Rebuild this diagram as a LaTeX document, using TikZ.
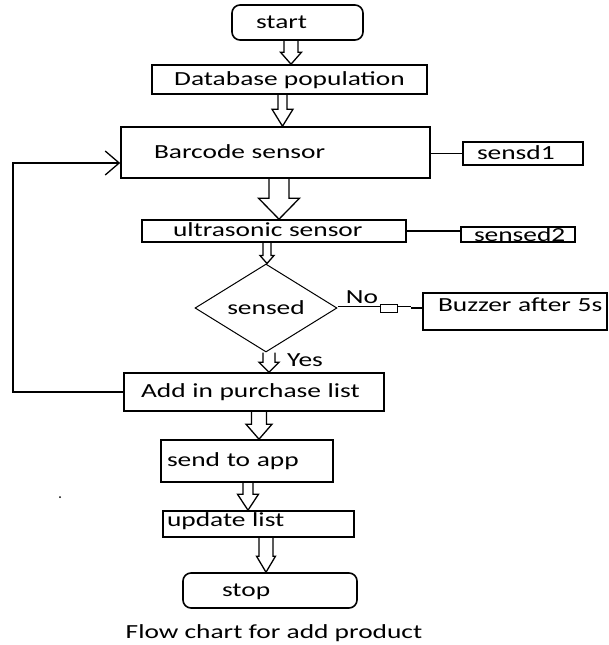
\documentclass[tikz,border=0pt]{standalone}
\usepackage{fontspec}
\setmainfont{Carlito}[FakeStretch=1.37]
\usetikzlibrary{shapes.geometric,calc,arrows.meta}

\newcommand{\fatarrow}[6]{%
  \path (#3,0 |- #1.south) coordinate (fa0) (#3,0 |- #2.north) coordinate (fa1);
  \draw[blockarr] ($(fa0)+(-#4,0)$) -- ($(fa1)+(-#4,-#6)$) -- ($(fa1)+(-#5,-#6)$) -- (fa1)
    -- ($(fa1)+(#5,-#6)$) -- ($(fa1)+(#4,-#6)$) -- ($(fa0)+(#4,0)$);}

\begin{document}
\begin{tikzpicture}[x=1pt,y=-1pt,
    font=\fontsize{20}{24}\selectfont,
    box/.style={draw,line width=1.6pt,inner ysep=0pt,text height=15pt,text depth=4pt},
    lbox/.style n args={3}{box,inner xsep=0pt,text width=#1pt,minimum height=#3pt,align=left,
      execute at begin node={\hspace*{#2pt}}},
    blockarr/.style={line width=1.3pt}]
  \useasboundingbox (0,0) rectangle (608,645);

  \node[lbox={131}{24}{35},rounded corners=8pt] (start) at (297.5,22.5) {start};
  \node[box,minimum width=275pt,minimum height=29pt] (db) at (289.5,79.5) {Database population};
  \node[lbox={309}{33}{51}] (barcode) at (275.5,152.5) {Barcode sensor};
  \node[lbox={120}{14}{23}] (sensd1) at (523,153.5) {sensd1};
  \node[lbox={264}{31}{22}] (ultra) at (274,231) {ultrasonic sensor};
  \node[lbox={114}{13}{15},text height=14pt,text depth=0pt] (sensed2) at (518,234.5) {sensed2};
  \node[draw,diamond,aspect=1.6,line width=1pt,minimum width=142pt,minimum height=88pt,inner sep=0pt] (sense) at (266,308) {sensed};
  \node[lbox={184}{15}{37},text depth=16pt] (buzzer) at (515,311.5) {Buzzer~after~5s};
  \node[lbox={260}{17}{38}] (add) at (254,392) {Add in purchase list};
  \node[lbox={172}{6}{42}] (send) at (247,461) {send to app};
  \node[lbox={191}{4}{26},text depth=10pt] (update) at (258.5,524) {update list};
  \node[lbox={174}{39}{35},rounded corners=8pt] (stop) at (270,590.5) {stop};
  \node (caption) at (274,633) {Flow chart for add product};
  \node (nolbl) at (362,297) {No};
  \node (yeslbl) at (305,360) {Yes};
  \fill (60,497) circle (1pt);

  \fatarrow{start}{db}{291}{7}{10.5}{12}
  \fatarrow{db}{barcode}{282.5}{4.5}{10.5}{17}
  \fatarrow{barcode}{ultra}{279}{10}{20.5}{21}
  \fatarrow{ultra}{sense}{267}{4}{7}{8}
  \fatarrow{sense}{add}{269}{6}{10}{10}
  \fatarrow{add}{send}{259}{7.5}{13}{15}
  \fatarrow{send}{update}{248}{5}{10.5}{16}
  \fatarrow{update}{stop}{266}{7}{9.5}{16}

  \draw[line width=1.3pt] (barcode.east |- sensd1.west) -- (sensd1.west);
  \draw[line width=1.3pt] (ultra.east) -- (ultra.east -| sensed2.west);

  \coordinate (back) at (13,163);
  \draw[line width=1.3pt,-{Straight Barb[length=14pt,width=24pt]}] (add.west) -| (back) -- (back -| barcode.west);

  \draw[line width=0.8pt,double,double distance=3pt] (sense.east) -- ++(43,0) coordinate (n1);
  \draw[line width=0.8pt,fill=white] ($(n1)+(0,-4)$) rectangle ($(n1)+(17,4)$);
  \draw[line width=0.8pt,double,double distance=3pt] ($(n1)+(17,0)$) -- ($(n1)+(30,0)$) coordinate (n2);
  \draw[line width=2.5pt] (n2) -- (n2 -| buzzer.west);
\end{tikzpicture}
\end{document}
